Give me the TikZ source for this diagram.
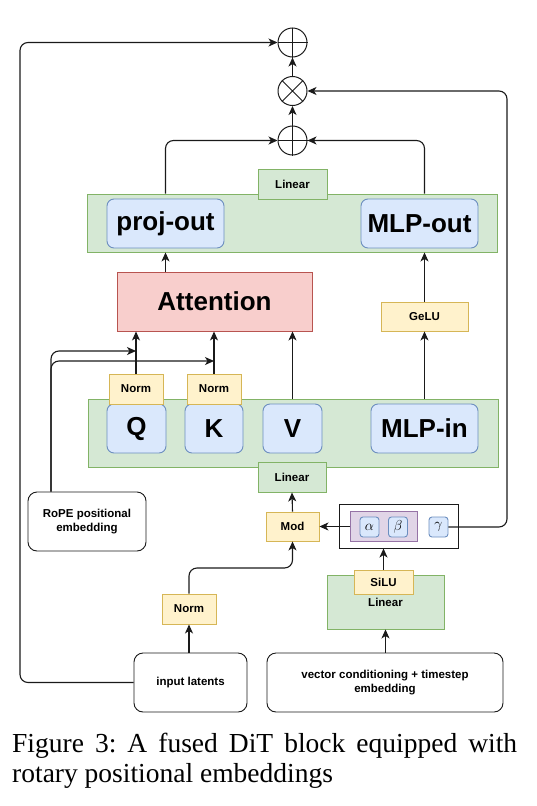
\documentclass[tikz,border=0pt]{standalone}
\usepackage{fontspec}
\setmainfont{Liberation Serif}
\newfontfamily\diafont{Liberation Sans}
\usetikzlibrary{arrows.meta}
\definecolor{gfill}{HTML}{D5E8D4}\definecolor{gdraw}{HTML}{82B366}
\definecolor{bfill}{HTML}{DAE8FC}\definecolor{bdraw}{HTML}{6C8EBF}
\definecolor{yfill}{HTML}{FFF2CC}\definecolor{ydraw}{HTML}{D6B656}
\definecolor{rfill}{HTML}{F8CECC}\definecolor{rdraw}{HTML}{B85450}
\definecolor{pfill}{HTML}{E1D5E7}\definecolor{pdraw}{HTML}{9673A6}
\definecolor{ink}{HTML}{1A1A1A}
\begin{document}
\begin{tikzpicture}[x=1pt,y=-1pt,
  box/.style={draw, line width=0.9pt, inner sep=0pt, align=center,
    font=\diafont\bfseries\fontsize{11.5}{13.5}\selectfont},
  bigtxt/.style={font=\diafont\bfseries\fontsize{26}{30}\selectfont},
  gbox/.style={box, fill=gfill, draw=gdraw},
  bbox/.style={box, fill=bfill, draw=bdraw, rounded corners=7pt},
  ybox/.style={box, fill=yfill, draw=ydraw},
  rbox/.style={box, fill=rfill, draw=rdraw},
  pbox/.style={box, fill=pfill, draw=pdraw},
  wbox/.style={box, fill=white, draw=ink, rounded corners=9pt},
  obox/.style={box, draw=ink, line width=1pt},
  opnode/.style={circle, draw=ink, line width=1pt, minimum size=29pt, inner sep=0pt},
  conn/.style={draw=ink, line width=1.1pt, rounded corners=8pt,
    -{Stealth[length=9pt,width=8pt,inset=2.5pt]}},
  greek/.style={bbox, rounded corners=3pt, minimum width=19pt, minimum height=20pt, font=\fontsize{15}{17}\selectfont}
]
\useasboundingbox (0,0) rectangle (536,806);

% operators
\node[opnode] (p1) at (292.5,42.5) {};
\node[opnode] (tm) at (292.5,91) {};
\node[opnode] (p2) at (292.5,140.5) {};
\draw[ink, line width=1pt] (p1.north) -- (p1.south) (p1.west) -- (p1.east);
\draw[ink, line width=1pt] (p2.north) -- (p2.south) (p2.west) -- (p2.east);
\draw[ink, line width=1pt] (tm.north west) -- (tm.south east) (tm.north east) -- (tm.south west);

% upper block
\node[gbox, minimum width=410pt, minimum height=58pt] (g1) at (292,223) {};
\node[gbox, minimum width=69pt, minimum height=30pt] (lin1) at (292.5,184) {Linear};
\node[bbox, bigtxt, minimum width=117pt, minimum height=49pt] (po) at (165.5,223.5) {proj-out};
\node[bbox, bigtxt, minimum width=117pt, minimum height=49pt] (mo) at (419.5,223.5) {MLP-out};

\node[rbox, bigtxt, minimum width=195pt, minimum height=59pt] (att) at (214.5,301.5) {Attention};
\node[ybox, minimum width=87pt, minimum height=29pt] (gelu) at (424.5,316.5) {GeLU};

% lower block
\node[gbox, minimum width=410pt, minimum height=68pt] (g2) at (293,433) {};
\node[bbox, bigtxt, minimum width=59pt, minimum height=49pt] (q) at (136.5,428.5) {Q};
\node[bbox, bigtxt, minimum width=58pt, minimum height=49pt] (k) at (214,428.5) {K};
\node[bbox, bigtxt, minimum width=59pt, minimum height=49pt] (v) at (292.5,428.5) {V};
\node[bbox, bigtxt, minimum width=107pt, minimum height=49pt] (mi) at (424.5,428.5) {MLP-in};
\node[ybox, minimum width=54pt, minimum height=30pt] (qn) at (136,389) {Norm};
\node[ybox, minimum width=54pt, minimum height=30pt] (kn) at (214,389) {Norm};
\node[gbox, minimum width=68pt, minimum height=30pt] (lin2) at (292,477) {Linear};

% modulation
\node[wbox, minimum width=118pt, minimum height=59pt] (rope) at (87,521.5) {RoPE positional\\embedding};
\node[ybox, minimum width=53pt, minimum height=29pt] (mod) at (292.5,526.5) {Mod};
\node[obox, minimum width=119pt, minimum height=44pt] (outer) at (398.5,526) {};
\node[pbox, minimum width=67pt, minimum height=30pt] (pur) at (384,526.5) {};
\node[greek] (al) at (369.5,527) {$\alpha$};
\node[greek] (be) at (398,527) {$\beta$};
\node[greek] (ga) at (438.5,527) {$\gamma$};

\node[gbox, minimum width=117pt, minimum height=54pt] (lin3) at (385.5,602) {Linear};
\node[ybox, minimum width=59pt, minimum height=24pt] (silu) at (383.5,582) {SiLU};
\node[ybox, minimum width=54pt, minimum height=30pt] (nlow) at (189,609) {Norm};

\node[wbox, minimum width=113pt, minimum height=59pt] (lat) at (190.5,682.5) {input latents};
\node[wbox, minimum width=236pt, minimum height=59pt] (vec) at (385,682.5) {vector conditioning + timestep\\embedding};

% routing coordinates
\coordinate (lx) at (20,0);
\coordinate (rx) at (507,0);
\coordinate (ropex) at (51,0);
\coordinate (r1) at (0,351);
\coordinate (r2) at (0,361);
\coordinate (my) at (0,568);

% connectors
\draw[conn] (lat.west) -- (lat.west -| lx) -- (lx |- p1.west) -- (p1.west);
\draw[conn] (p2.north) -- (tm.south);
\draw[conn] (tm.north) -- (p1.south);
\draw[conn] (po.north |- g1.north) -- (po.north |- p2.west) -- (p2.west);
\draw[conn] (gelu.north |- g1.north) -- (gelu.north |- p2.east) -- (p2.east);
\draw[conn] (ga.east) -- (ga.east -| rx) -- (rx |- tm.east) -- (tm.east);
\draw[conn] (po.south |- att.north) -- (po.south |- g1.south);
\draw[conn] (gelu.north) -- (gelu.north |- g1.south);
\draw[conn] (qn.north) -- (qn.north |- att.south);
\draw[conn] (kn.north) -- (kn.north |- att.south);
\draw[conn] (v.north |- g2.north) -- (v.north |- att.south);
\draw[conn] (gelu.south |- g2.north) -- (gelu.south);
\draw[conn] (ropex |- rope.north) -- (ropex |- r1) -- (qn.north |- r1);
\draw[conn] (ropex |- rope.north) -- (ropex |- r2) -- (kn.north |- r2);
\draw[conn] (mod.north) -- (lin2.south);
\draw[conn] (pur.west) -- (mod.east);
\draw[conn] (nlow.north) -- (nlow.north |- my) -- (mod.south |- my) -- (mod.south);
\draw[conn] (lat.north -| nlow.south) -- (nlow.south);
\draw[conn] (silu.north) -- (silu.north |- outer.south);
\draw[conn] (lin3.south |- vec.north) -- (lin3.south);

% caption
\node[anchor=base west, inner sep=0pt, font=\fontsize{27.5}{32}\selectfont] (cap1) at (12,752)
  {\makebox[505pt][s]{Figure 3:\ A fused DiT block equipped with}};
\node[anchor=base west, inner sep=0pt, font=\fontsize{27.5}{32}\selectfont] (cap2) at (12,782)
  {rotary positional embeddings};
\end{tikzpicture}
\end{document}
